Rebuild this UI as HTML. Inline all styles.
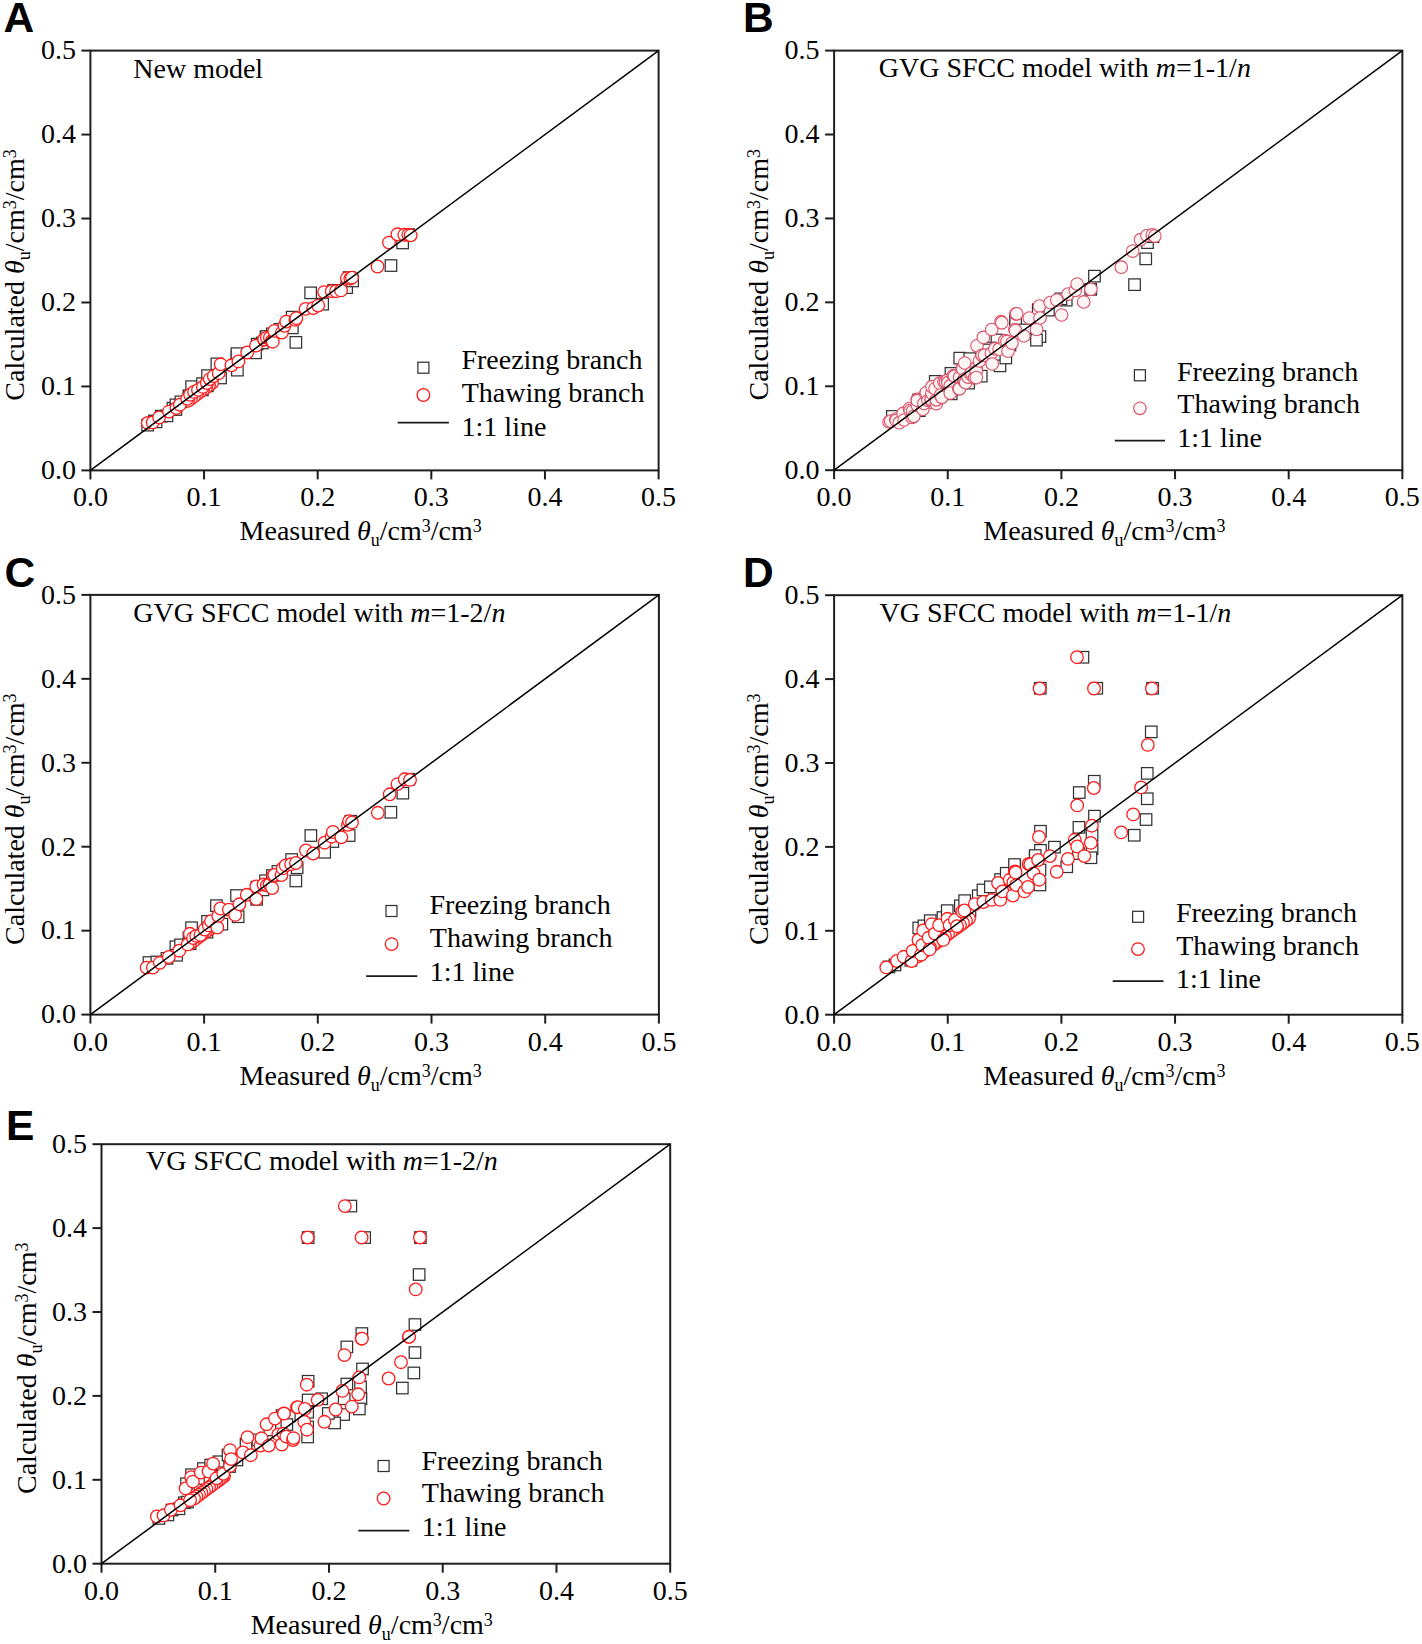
<!DOCTYPE html>
<html><head><meta charset="utf-8"><style>
html,body{margin:0;padding:0;background:#fff;overflow:hidden;}
svg{display:block;}
.tk{font-family:"Liberation Serif",serif;font-size:28px;fill:#000;}
.tx{font-family:"Liberation Serif",serif;font-size:28px;fill:#000;}
.lb{font-family:"Liberation Sans",sans-serif;font-weight:bold;font-size:42.5px;fill:#000;}
</style></head><body>
<svg width="1422" height="1644" viewBox="0 0 1422 1644">
<g stroke="#1e1e1e" stroke-width="2" fill="none">
<rect x="90.4" y="50.6" width="568.20" height="419.80"/>
<line x1="90.40" y1="470.4" x2="90.40" y2="479.4"/>
<line x1="81.4" y1="470.40" x2="90.4" y2="470.40"/>
<line x1="204.04" y1="470.4" x2="204.04" y2="479.4"/>
<line x1="81.4" y1="386.44" x2="90.4" y2="386.44"/>
<line x1="317.68" y1="470.4" x2="317.68" y2="479.4"/>
<line x1="81.4" y1="302.48" x2="90.4" y2="302.48"/>
<line x1="431.32" y1="470.4" x2="431.32" y2="479.4"/>
<line x1="81.4" y1="218.52" x2="90.4" y2="218.52"/>
<line x1="544.96" y1="470.4" x2="544.96" y2="479.4"/>
<line x1="81.4" y1="134.56" x2="90.4" y2="134.56"/>
<line x1="658.60" y1="470.4" x2="658.60" y2="479.4"/>
<line x1="81.4" y1="50.60" x2="90.4" y2="50.60"/>
</g>
<text x="90.40" y="506.40" text-anchor="middle" class="tk">0.0</text>
<text x="75.90" y="479.20" text-anchor="end" class="tk">0.0</text>
<text x="204.04" y="506.40" text-anchor="middle" class="tk">0.1</text>
<text x="75.90" y="395.24" text-anchor="end" class="tk">0.1</text>
<text x="317.68" y="506.40" text-anchor="middle" class="tk">0.2</text>
<text x="75.90" y="311.28" text-anchor="end" class="tk">0.2</text>
<text x="431.32" y="506.40" text-anchor="middle" class="tk">0.3</text>
<text x="75.90" y="227.32" text-anchor="end" class="tk">0.3</text>
<text x="544.96" y="506.40" text-anchor="middle" class="tk">0.4</text>
<text x="75.90" y="143.36" text-anchor="end" class="tk">0.4</text>
<text x="658.60" y="506.40" text-anchor="middle" class="tk">0.5</text>
<text x="75.90" y="59.40" text-anchor="end" class="tk">0.5</text>
<text x="239.60" y="540.40" class="tx">Measured <tspan font-style="italic">&#952;</tspan><tspan font-size="18" dy="6">u</tspan><tspan dy="-6">/cm</tspan><tspan font-size="18" dy="-8">3</tspan><tspan dy="8">/cm</tspan><tspan font-size="18" dy="-8">3</tspan></text>
<text transform="translate(24.40,400.70) rotate(-90)" class="tx">Calculated <tspan font-style="italic">&#952;</tspan><tspan font-size="18" dy="6">u</tspan><tspan dy="-6">/cm</tspan><tspan font-size="18" dy="-8">3</tspan><tspan dy="8">/cm</tspan><tspan font-size="18" dy="-8">3</tspan></text>
<text x="3.6" y="31.7" class="lb">A</text>
<text x="133.3" y="77.9" class="tx">New model</text>
<g fill="#fff" stroke="#333" stroke-width="1.25">
<rect x="148.6" y="415.2" width="11.5" height="11.5"/>
<rect x="155.4" y="410.4" width="11.5" height="11.5"/>
<rect x="167.2" y="402.4" width="11.5" height="11.5"/>
<rect x="170.2" y="399.1" width="11.5" height="11.5"/>
<rect x="175.2" y="396.1" width="11.5" height="11.5"/>
<rect x="183.1" y="390.1" width="11.5" height="11.5"/>
<rect x="185.9" y="380.9" width="11.5" height="11.5"/>
<rect x="196.8" y="377.9" width="11.5" height="11.5"/>
<rect x="201.8" y="369.9" width="11.5" height="11.5"/>
<rect x="211.1" y="358.1" width="11.5" height="11.5"/>
<rect x="231.2" y="350.8" width="11.5" height="11.5"/>
<rect x="251.4" y="338.4" width="11.5" height="11.5"/>
<rect x="260.2" y="331.1" width="11.5" height="11.5"/>
<rect x="266.6" y="328.1" width="11.5" height="11.5"/>
<rect x="141.9" y="419.4" width="11.5" height="11.5"/>
<rect x="150.3" y="416.1" width="11.5" height="11.5"/>
<rect x="161.2" y="410.1" width="11.5" height="11.5"/>
<rect x="170.1" y="403.8" width="11.5" height="11.5"/>
<rect x="183.8" y="390.4" width="11.5" height="11.5"/>
<rect x="196.6" y="384.1" width="11.5" height="11.5"/>
<rect x="201.6" y="380.1" width="11.5" height="11.5"/>
<rect x="214.8" y="372.2" width="11.5" height="11.5"/>
<rect x="231.6" y="364.4" width="11.5" height="11.5"/>
<rect x="249.8" y="347.1" width="11.5" height="11.5"/>
<rect x="256.6" y="337.2" width="11.5" height="11.5"/>
<rect x="290.1" y="336.6" width="11.5" height="11.5"/>
<rect x="286.6" y="322.1" width="11.5" height="11.5"/>
<rect x="304.9" y="287.1" width="11.5" height="11.5"/>
<rect x="286.4" y="311.4" width="11.5" height="11.5"/>
<rect x="316.9" y="298.4" width="11.5" height="11.5"/>
<rect x="327.9" y="284.6" width="11.5" height="11.5"/>
<rect x="340.9" y="281.9" width="11.5" height="11.5"/>
<rect x="343.4" y="271.8" width="11.5" height="11.5"/>
<rect x="346.9" y="275.2" width="11.5" height="11.5"/>
<rect x="274.2" y="323.6" width="11.5" height="11.5"/>
<rect x="260.8" y="330.8" width="11.5" height="11.5"/>
<rect x="385.2" y="259.8" width="11.5" height="11.5"/>
<rect x="396.9" y="237.2" width="11.5" height="11.5"/>
<rect x="402.8" y="228.8" width="11.5" height="11.5"/>
<rect x="231.2" y="347.9" width="11.5" height="11.5"/>
</g>
<g fill="#fff" stroke="#ff1a1a" stroke-width="1.3">
<circle cx="212.0" cy="383.1" r="6.3"/>
<circle cx="209.0" cy="385.3" r="6.3"/>
<circle cx="206.0" cy="387.5" r="6.3"/>
<circle cx="203.0" cy="389.7" r="6.3"/>
<circle cx="200.0" cy="391.9" r="6.3"/>
<circle cx="197.0" cy="394.1" r="6.3"/>
<circle cx="194.0" cy="396.4" r="6.3"/>
<circle cx="191.0" cy="398.6" r="6.3"/>
<circle cx="188.0" cy="400.8" r="6.3"/>
<circle cx="147.8" cy="422.9" r="6.3"/>
<circle cx="152.7" cy="422.4" r="6.3"/>
<circle cx="159.1" cy="417.5" r="6.3"/>
<circle cx="169.0" cy="411.6" r="6.3"/>
<circle cx="176.4" cy="408.1" r="6.3"/>
<circle cx="179.8" cy="404.7" r="6.3"/>
<circle cx="187.2" cy="398.8" r="6.3"/>
<circle cx="190.1" cy="394.8" r="6.3"/>
<circle cx="194.1" cy="391.9" r="6.3"/>
<circle cx="198.0" cy="389.9" r="6.3"/>
<circle cx="202.9" cy="386.9" r="6.3"/>
<circle cx="206.9" cy="383.0" r="6.3"/>
<circle cx="209.8" cy="379.1" r="6.3"/>
<circle cx="213.8" cy="376.1" r="6.3"/>
<circle cx="218.7" cy="373.2" r="6.3"/>
<circle cx="220.7" cy="364.3" r="6.3"/>
<circle cx="231.5" cy="365.3" r="6.3"/>
<circle cx="238.4" cy="361.4" r="6.3"/>
<circle cx="247.2" cy="352.5" r="6.3"/>
<circle cx="256.1" cy="345.6" r="6.3"/>
<circle cx="264.0" cy="339.7" r="6.3"/>
<circle cx="264.2" cy="339.3" r="6.3"/>
<circle cx="266.8" cy="337.6" r="6.3"/>
<circle cx="269.9" cy="337.7" r="6.3"/>
<circle cx="271.8" cy="341.0" r="6.3"/>
<circle cx="272.8" cy="341.7" r="6.3"/>
<circle cx="274.3" cy="330.9" r="6.3"/>
<circle cx="281.9" cy="332.6" r="6.3"/>
<circle cx="284.5" cy="325.8" r="6.3"/>
<circle cx="286.2" cy="321.6" r="6.3"/>
<circle cx="295.4" cy="319.9" r="6.3"/>
<circle cx="296.3" cy="318.2" r="6.3"/>
<circle cx="305.6" cy="308.9" r="6.3"/>
<circle cx="313.2" cy="308.1" r="6.3"/>
<circle cx="318.2" cy="305.6" r="6.3"/>
<circle cx="324.1" cy="292.1" r="6.3"/>
<circle cx="331.7" cy="291.2" r="6.3"/>
<circle cx="336.0" cy="291.2" r="6.3"/>
<circle cx="341.0" cy="290.4" r="6.3"/>
<circle cx="346.9" cy="278.1" r="6.3"/>
<circle cx="350.3" cy="278.6" r="6.3"/>
<circle cx="352.0" cy="277.7" r="6.3"/>
<circle cx="377.5" cy="266.5" r="6.3"/>
<circle cx="389.0" cy="242.6" r="6.3"/>
<circle cx="397.4" cy="234.3" r="6.3"/>
<circle cx="404.3" cy="234.8" r="6.3"/>
<circle cx="408.3" cy="234.8" r="6.3"/>
<circle cx="410.7" cy="235.3" r="6.3"/>
</g>
<line x1="90.4" y1="470.4" x2="658.6" y2="50.6" stroke="#000" stroke-width="1.5"/>
<rect x="417.9" y="362.2" width="11" height="11" fill="none" stroke="#333" stroke-width="1.25"/>
<g fill="#fff" stroke="#ff1a1a" stroke-width="1.3"><circle cx="423.4" cy="395.0" r="6.3"/></g>
<line x1="397.7" y1="422.6" x2="448.9" y2="422.6" stroke="#1a1a1a" stroke-width="1.8"/>
<text x="461.4" y="369.3" class="tx">Freezing branch</text>
<text x="461.7" y="402.2" class="tx">Thawing branch</text>
<text x="461.6" y="436.0" class="tx">1:1 line</text>
<g stroke="#1e1e1e" stroke-width="2" fill="none">
<rect x="834.1" y="50.6" width="568.25" height="419.60"/>
<line x1="834.10" y1="470.2" x2="834.10" y2="479.2"/>
<line x1="825.1" y1="470.20" x2="834.1" y2="470.20"/>
<line x1="947.75" y1="470.2" x2="947.75" y2="479.2"/>
<line x1="825.1" y1="386.28" x2="834.1" y2="386.28"/>
<line x1="1061.40" y1="470.2" x2="1061.40" y2="479.2"/>
<line x1="825.1" y1="302.36" x2="834.1" y2="302.36"/>
<line x1="1175.05" y1="470.2" x2="1175.05" y2="479.2"/>
<line x1="825.1" y1="218.44" x2="834.1" y2="218.44"/>
<line x1="1288.70" y1="470.2" x2="1288.70" y2="479.2"/>
<line x1="825.1" y1="134.52" x2="834.1" y2="134.52"/>
<line x1="1402.35" y1="470.2" x2="1402.35" y2="479.2"/>
<line x1="825.1" y1="50.60" x2="834.1" y2="50.60"/>
</g>
<text x="834.10" y="506.20" text-anchor="middle" class="tk">0.0</text>
<text x="819.60" y="479.00" text-anchor="end" class="tk">0.0</text>
<text x="947.75" y="506.20" text-anchor="middle" class="tk">0.1</text>
<text x="819.60" y="395.08" text-anchor="end" class="tk">0.1</text>
<text x="1061.40" y="506.20" text-anchor="middle" class="tk">0.2</text>
<text x="819.60" y="311.16" text-anchor="end" class="tk">0.2</text>
<text x="1175.05" y="506.20" text-anchor="middle" class="tk">0.3</text>
<text x="819.60" y="227.24" text-anchor="end" class="tk">0.3</text>
<text x="1288.70" y="506.20" text-anchor="middle" class="tk">0.4</text>
<text x="819.60" y="143.32" text-anchor="end" class="tk">0.4</text>
<text x="1402.35" y="506.20" text-anchor="middle" class="tk">0.5</text>
<text x="819.60" y="59.40" text-anchor="end" class="tk">0.5</text>
<text x="983.30" y="540.20" class="tx">Measured <tspan font-style="italic">&#952;</tspan><tspan font-size="18" dy="6">u</tspan><tspan dy="-6">/cm</tspan><tspan font-size="18" dy="-8">3</tspan><tspan dy="8">/cm</tspan><tspan font-size="18" dy="-8">3</tspan></text>
<text transform="translate(768.10,400.50) rotate(-90)" class="tx">Calculated <tspan font-style="italic">&#952;</tspan><tspan font-size="18" dy="6">u</tspan><tspan dy="-6">/cm</tspan><tspan font-size="18" dy="-8">3</tspan><tspan dy="8">/cm</tspan><tspan font-size="18" dy="-8">3</tspan></text>
<text x="742.9" y="31.7" class="lb">B</text>
<text x="878.8" y="76.7" class="tx">GVG SFCC model with <tspan font-style="italic">m</tspan>=1-1/<tspan font-style="italic">n</tspan></text>
<g fill="#fff" stroke="#333" stroke-width="1.25">
<rect x="886.6" y="410.6" width="11.5" height="11.5"/>
<rect x="912.8" y="394.2" width="11.5" height="11.5"/>
<rect x="929.5" y="375.6" width="11.5" height="11.5"/>
<rect x="945.2" y="367.6" width="11.5" height="11.5"/>
<rect x="954.0" y="352.4" width="11.5" height="11.5"/>
<rect x="964.0" y="352.9" width="11.5" height="11.5"/>
<rect x="1009.8" y="314.1" width="11.5" height="11.5"/>
<rect x="945.5" y="388.1" width="11.5" height="11.5"/>
<rect x="962.8" y="377.4" width="11.5" height="11.5"/>
<rect x="975.5" y="370.4" width="11.5" height="11.5"/>
<rect x="994.2" y="360.1" width="11.5" height="11.5"/>
<rect x="1000.1" y="352.2" width="11.5" height="11.5"/>
<rect x="913.5" y="404.9" width="11.5" height="11.5"/>
<rect x="991.2" y="334.2" width="11.5" height="11.5"/>
<rect x="984.2" y="342.2" width="11.5" height="11.5"/>
<rect x="1140.0" y="253.1" width="11.5" height="11.5"/>
<rect x="1128.8" y="278.9" width="11.5" height="11.5"/>
<rect x="1141.8" y="236.9" width="11.5" height="11.5"/>
<rect x="1147.2" y="230.9" width="11.5" height="11.5"/>
<rect x="1088.7" y="270.4" width="11.5" height="11.5"/>
<rect x="1085.0" y="283.6" width="11.5" height="11.5"/>
<rect x="1060.5" y="294.4" width="11.5" height="11.5"/>
<rect x="1042.7" y="304.4" width="11.5" height="11.5"/>
<rect x="1034.2" y="330.8" width="11.5" height="11.5"/>
<rect x="1030.7" y="334.4" width="11.5" height="11.5"/>
<rect x="1009.9" y="314.6" width="11.5" height="11.5"/>
<rect x="1032.5" y="303.9" width="11.5" height="11.5"/>
<rect x="1055.2" y="293.1" width="11.5" height="11.5"/>
<rect x="1019.2" y="324.2" width="11.5" height="11.5"/>
<rect x="1004.2" y="339.2" width="11.5" height="11.5"/>
<rect x="979.2" y="344.2" width="11.5" height="11.5"/>
</g>
<g fill="#fcf5f3" stroke="#d9506a" stroke-width="1.1">
<circle cx="948.0" cy="389.1" r="6.3"/>
<circle cx="945.0" cy="391.3" r="6.3"/>
<circle cx="942.0" cy="393.5" r="6.3"/>
<circle cx="939.0" cy="395.7" r="6.3"/>
<circle cx="936.0" cy="398.0" r="6.3"/>
<circle cx="933.0" cy="400.2" r="6.3"/>
<circle cx="930.0" cy="402.4" r="6.3"/>
<circle cx="889.1" cy="421.9" r="6.3"/>
<circle cx="890.8" cy="421.1" r="6.3"/>
<circle cx="895.8" cy="419.1" r="6.3"/>
<circle cx="896.2" cy="420.5" r="6.3"/>
<circle cx="899.2" cy="422.7" r="6.3"/>
<circle cx="903.2" cy="413.4" r="6.3"/>
<circle cx="904.1" cy="420.0" r="6.3"/>
<circle cx="909.4" cy="408.5" r="6.3"/>
<circle cx="910.2" cy="410.6" r="6.3"/>
<circle cx="912.0" cy="417.4" r="6.3"/>
<circle cx="912.5" cy="411.3" r="6.3"/>
<circle cx="913.8" cy="416.3" r="6.3"/>
<circle cx="917.3" cy="399.4" r="6.3"/>
<circle cx="917.3" cy="405.1" r="6.3"/>
<circle cx="917.4" cy="400.4" r="6.3"/>
<circle cx="922.9" cy="409.2" r="6.3"/>
<circle cx="924.0" cy="403.4" r="6.3"/>
<circle cx="925.7" cy="393.8" r="6.3"/>
<circle cx="926.3" cy="392.5" r="6.3"/>
<circle cx="928.0" cy="400.5" r="6.3"/>
<circle cx="931.2" cy="400.4" r="6.3"/>
<circle cx="931.3" cy="399.4" r="6.3"/>
<circle cx="931.9" cy="393.1" r="6.3"/>
<circle cx="932.0" cy="386.7" r="6.3"/>
<circle cx="935.1" cy="388.6" r="6.3"/>
<circle cx="936.3" cy="403.6" r="6.3"/>
<circle cx="936.4" cy="399.8" r="6.3"/>
<circle cx="939.8" cy="383.2" r="6.3"/>
<circle cx="940.6" cy="395.0" r="6.3"/>
<circle cx="941.9" cy="397.3" r="6.3"/>
<circle cx="944.0" cy="381.7" r="6.3"/>
<circle cx="945.5" cy="381.8" r="6.3"/>
<circle cx="947.5" cy="380.4" r="6.3"/>
<circle cx="947.9" cy="382.7" r="6.3"/>
<circle cx="950.3" cy="385.7" r="6.3"/>
<circle cx="950.3" cy="393.1" r="6.3"/>
<circle cx="953.4" cy="375.5" r="6.3"/>
<circle cx="954.5" cy="376.2" r="6.3"/>
<circle cx="958.8" cy="388.6" r="6.3"/>
<circle cx="959.5" cy="388.8" r="6.3"/>
<circle cx="959.6" cy="377.2" r="6.3"/>
<circle cx="962.3" cy="368.4" r="6.3"/>
<circle cx="962.7" cy="368.9" r="6.3"/>
<circle cx="963.7" cy="379.8" r="6.3"/>
<circle cx="964.4" cy="381.1" r="6.3"/>
<circle cx="964.7" cy="363.0" r="6.3"/>
<circle cx="965.7" cy="382.7" r="6.3"/>
<circle cx="968.1" cy="377.1" r="6.3"/>
<circle cx="970.7" cy="374.1" r="6.3"/>
<circle cx="971.7" cy="372.8" r="6.3"/>
<circle cx="974.5" cy="377.8" r="6.3"/>
<circle cx="976.3" cy="367.7" r="6.3"/>
<circle cx="976.3" cy="371.3" r="6.3"/>
<circle cx="976.3" cy="377.6" r="6.3"/>
<circle cx="977.0" cy="345.8" r="6.3"/>
<circle cx="979.4" cy="361.0" r="6.3"/>
<circle cx="982.1" cy="355.3" r="6.3"/>
<circle cx="983.4" cy="337.4" r="6.3"/>
<circle cx="984.4" cy="355.2" r="6.3"/>
<circle cx="991.4" cy="353.2" r="6.3"/>
<circle cx="991.7" cy="329.5" r="6.3"/>
<circle cx="992.2" cy="364.0" r="6.3"/>
<circle cx="994.9" cy="348.7" r="6.3"/>
<circle cx="999.1" cy="349.2" r="6.3"/>
<circle cx="1001.1" cy="321.7" r="6.3"/>
<circle cx="1001.8" cy="322.8" r="6.3"/>
<circle cx="1004.8" cy="340.7" r="6.3"/>
<circle cx="1007.0" cy="341.4" r="6.3"/>
<circle cx="1008.0" cy="351.2" r="6.3"/>
<circle cx="1012.0" cy="343.1" r="6.3"/>
<circle cx="1014.9" cy="329.5" r="6.3"/>
<circle cx="1015.5" cy="330.6" r="6.3"/>
<circle cx="1015.9" cy="313.8" r="6.3"/>
<circle cx="1016.7" cy="313.8" r="6.3"/>
<circle cx="1023.9" cy="336.0" r="6.3"/>
<circle cx="1029.3" cy="318.0" r="6.3"/>
<circle cx="1036.5" cy="329.4" r="6.3"/>
<circle cx="1039.5" cy="306.1" r="6.3"/>
<circle cx="1040.0" cy="318.0" r="6.3"/>
<circle cx="1050.2" cy="302.5" r="6.3"/>
<circle cx="1056.8" cy="300.1" r="6.3"/>
<circle cx="1061.6" cy="315.0" r="6.3"/>
<circle cx="1068.1" cy="294.1" r="6.3"/>
<circle cx="1075.3" cy="290.5" r="6.3"/>
<circle cx="1077.1" cy="284.0" r="6.3"/>
<circle cx="1083.7" cy="301.9" r="6.3"/>
<circle cx="1090.9" cy="289.3" r="6.3"/>
<circle cx="1121.3" cy="267.2" r="6.3"/>
<circle cx="1132.7" cy="251.1" r="6.3"/>
<circle cx="1140.5" cy="239.7" r="6.3"/>
<circle cx="1147.0" cy="235.5" r="6.3"/>
<circle cx="1152.4" cy="234.9" r="6.3"/>
<circle cx="1154.8" cy="236.1" r="6.3"/>
</g>
<line x1="834.1" y1="470.2" x2="1402.35" y2="50.6" stroke="#000" stroke-width="1.5"/>
<rect x="1134.4" y="369.8" width="11" height="11" fill="none" stroke="#333" stroke-width="1.25"/>
<g fill="#fcf5f3" stroke="#d9506a" stroke-width="1.1"><circle cx="1139.9" cy="408.3" r="6.3"/></g>
<line x1="1114.8" y1="440.6" x2="1165.0" y2="440.6" stroke="#1a1a1a" stroke-width="1.8"/>
<text x="1177.0" y="380.5" class="tx">Freezing branch</text>
<text x="1177.3" y="413.4" class="tx">Thawing branch</text>
<text x="1177.2" y="446.5" class="tx">1:1 line</text>
<g stroke="#1e1e1e" stroke-width="2" fill="none">
<rect x="90.4" y="594.9" width="568.50" height="419.70"/>
<line x1="90.40" y1="1014.6" x2="90.40" y2="1023.6"/>
<line x1="81.4" y1="1014.60" x2="90.4" y2="1014.60"/>
<line x1="204.10" y1="1014.6" x2="204.10" y2="1023.6"/>
<line x1="81.4" y1="930.66" x2="90.4" y2="930.66"/>
<line x1="317.80" y1="1014.6" x2="317.80" y2="1023.6"/>
<line x1="81.4" y1="846.72" x2="90.4" y2="846.72"/>
<line x1="431.50" y1="1014.6" x2="431.50" y2="1023.6"/>
<line x1="81.4" y1="762.78" x2="90.4" y2="762.78"/>
<line x1="545.20" y1="1014.6" x2="545.20" y2="1023.6"/>
<line x1="81.4" y1="678.84" x2="90.4" y2="678.84"/>
<line x1="658.90" y1="1014.6" x2="658.90" y2="1023.6"/>
<line x1="81.4" y1="594.90" x2="90.4" y2="594.90"/>
</g>
<text x="90.40" y="1050.60" text-anchor="middle" class="tk">0.0</text>
<text x="75.90" y="1023.40" text-anchor="end" class="tk">0.0</text>
<text x="204.10" y="1050.60" text-anchor="middle" class="tk">0.1</text>
<text x="75.90" y="939.46" text-anchor="end" class="tk">0.1</text>
<text x="317.80" y="1050.60" text-anchor="middle" class="tk">0.2</text>
<text x="75.90" y="855.52" text-anchor="end" class="tk">0.2</text>
<text x="431.50" y="1050.60" text-anchor="middle" class="tk">0.3</text>
<text x="75.90" y="771.58" text-anchor="end" class="tk">0.3</text>
<text x="545.20" y="1050.60" text-anchor="middle" class="tk">0.4</text>
<text x="75.90" y="687.64" text-anchor="end" class="tk">0.4</text>
<text x="658.90" y="1050.60" text-anchor="middle" class="tk">0.5</text>
<text x="75.90" y="603.70" text-anchor="end" class="tk">0.5</text>
<text x="239.60" y="1084.60" class="tx">Measured <tspan font-style="italic">&#952;</tspan><tspan font-size="18" dy="6">u</tspan><tspan dy="-6">/cm</tspan><tspan font-size="18" dy="-8">3</tspan><tspan dy="8">/cm</tspan><tspan font-size="18" dy="-8">3</tspan></text>
<text transform="translate(24.40,944.90) rotate(-90)" class="tx">Calculated <tspan font-style="italic">&#952;</tspan><tspan font-size="18" dy="6">u</tspan><tspan dy="-6">/cm</tspan><tspan font-size="18" dy="-8">3</tspan><tspan dy="8">/cm</tspan><tspan font-size="18" dy="-8">3</tspan></text>
<text x="4.4" y="587.1" class="lb">C</text>
<text x="133.3" y="621.7" class="tx">GVG SFCC model with <tspan font-style="italic">m</tspan>=1-2/<tspan font-style="italic">n</tspan></text>
<g fill="#fff" stroke="#333" stroke-width="1.25">
<rect x="143.2" y="956.8" width="11.5" height="11.5"/>
<rect x="151.1" y="956.2" width="11.5" height="11.5"/>
<rect x="170.1" y="941.0" width="11.5" height="11.5"/>
<rect x="174.8" y="939.1" width="11.5" height="11.5"/>
<rect x="183.2" y="932.0" width="11.5" height="11.5"/>
<rect x="185.8" y="922.0" width="11.5" height="11.5"/>
<rect x="201.8" y="915.6" width="11.5" height="11.5"/>
<rect x="210.7" y="899.9" width="11.5" height="11.5"/>
<rect x="230.8" y="889.8" width="11.5" height="11.5"/>
<rect x="251.2" y="881.4" width="11.5" height="11.5"/>
<rect x="259.8" y="875.0" width="11.5" height="11.5"/>
<rect x="266.6" y="869.8" width="11.5" height="11.5"/>
<rect x="273.4" y="866.0" width="11.5" height="11.5"/>
<rect x="170.8" y="949.5" width="11.5" height="11.5"/>
<rect x="184.4" y="938.0" width="11.5" height="11.5"/>
<rect x="201.3" y="926.4" width="11.5" height="11.5"/>
<rect x="216.1" y="918.4" width="11.5" height="11.5"/>
<rect x="232.4" y="911.0" width="11.5" height="11.5"/>
<rect x="250.9" y="893.6" width="11.5" height="11.5"/>
<rect x="257.2" y="884.1" width="11.5" height="11.5"/>
<rect x="161.2" y="952.6" width="11.5" height="11.5"/>
<rect x="385.1" y="806.5" width="11.5" height="11.5"/>
<rect x="397.1" y="787.4" width="11.5" height="11.5"/>
<rect x="403.1" y="773.5" width="11.5" height="11.5"/>
<rect x="345.1" y="815.5" width="11.5" height="11.5"/>
<rect x="343.4" y="829.8" width="11.5" height="11.5"/>
<rect x="327.1" y="835.8" width="11.5" height="11.5"/>
<rect x="318.9" y="846.5" width="11.5" height="11.5"/>
<rect x="305.1" y="829.8" width="11.5" height="11.5"/>
<rect x="290.1" y="875.2" width="11.5" height="11.5"/>
<rect x="285.9" y="853.8" width="11.5" height="11.5"/>
<rect x="291.4" y="862.0" width="11.5" height="11.5"/>
<rect x="272.2" y="865.6" width="11.5" height="11.5"/>
</g>
<g fill="#fff" stroke="#ff1a1a" stroke-width="1.3">
<circle cx="211.0" cy="928.1" r="6.3"/>
<circle cx="208.0" cy="930.3" r="6.3"/>
<circle cx="205.0" cy="932.5" r="6.3"/>
<circle cx="202.0" cy="934.7" r="6.3"/>
<circle cx="199.0" cy="936.9" r="6.3"/>
<circle cx="196.0" cy="939.1" r="6.3"/>
<circle cx="193.0" cy="941.4" r="6.3"/>
<circle cx="190.0" cy="943.6" r="6.3"/>
<circle cx="146.6" cy="967.6" r="6.3"/>
<circle cx="152.9" cy="967.6" r="6.3"/>
<circle cx="159.8" cy="962.8" r="6.3"/>
<circle cx="168.8" cy="957.0" r="6.3"/>
<circle cx="179.3" cy="950.7" r="6.3"/>
<circle cx="187.7" cy="944.4" r="6.3"/>
<circle cx="189.9" cy="933.8" r="6.3"/>
<circle cx="193.0" cy="938.1" r="6.3"/>
<circle cx="196.2" cy="935.9" r="6.3"/>
<circle cx="200.4" cy="934.9" r="6.3"/>
<circle cx="204.6" cy="929.6" r="6.3"/>
<circle cx="208.8" cy="925.4" r="6.3"/>
<circle cx="211.0" cy="921.2" r="6.3"/>
<circle cx="217.3" cy="927.5" r="6.3"/>
<circle cx="218.3" cy="915.9" r="6.3"/>
<circle cx="220.4" cy="908.5" r="6.3"/>
<circle cx="228.9" cy="909.6" r="6.3"/>
<circle cx="235.2" cy="914.9" r="6.3"/>
<circle cx="239.4" cy="904.3" r="6.3"/>
<circle cx="246.8" cy="894.8" r="6.3"/>
<circle cx="256.3" cy="886.4" r="6.3"/>
<circle cx="256.3" cy="899.0" r="6.3"/>
<circle cx="263.6" cy="884.5" r="6.3"/>
<circle cx="266.9" cy="885.3" r="6.3"/>
<circle cx="269.6" cy="884.5" r="6.3"/>
<circle cx="272.1" cy="888.0" r="6.3"/>
<circle cx="273.2" cy="875.8" r="6.3"/>
<circle cx="274.3" cy="875.0" r="6.3"/>
<circle cx="281.5" cy="875.0" r="6.3"/>
<circle cx="282.7" cy="868.4" r="6.3"/>
<circle cx="285.7" cy="865.4" r="6.3"/>
<circle cx="291.1" cy="864.2" r="6.3"/>
<circle cx="295.9" cy="863.0" r="6.3"/>
<circle cx="306.0" cy="850.5" r="6.3"/>
<circle cx="313.2" cy="853.5" r="6.3"/>
<circle cx="324.6" cy="842.7" r="6.3"/>
<circle cx="331.7" cy="836.7" r="6.3"/>
<circle cx="332.9" cy="832.0" r="6.3"/>
<circle cx="341.3" cy="837.3" r="6.3"/>
<circle cx="347.9" cy="824.8" r="6.3"/>
<circle cx="349.1" cy="821.2" r="6.3"/>
<circle cx="352.0" cy="822.4" r="6.3"/>
<circle cx="377.8" cy="812.8" r="6.3"/>
<circle cx="389.7" cy="794.3" r="6.3"/>
<circle cx="397.5" cy="784.1" r="6.3"/>
<circle cx="404.7" cy="779.3" r="6.3"/>
<circle cx="410.0" cy="779.9" r="6.3"/>
</g>
<line x1="90.4" y1="1014.6" x2="658.9" y2="594.9" stroke="#000" stroke-width="1.5"/>
<rect x="386.0" y="905.5" width="11" height="11" fill="none" stroke="#333" stroke-width="1.25"/>
<g fill="#fff" stroke="#ff1a1a" stroke-width="1.3"><circle cx="391.6" cy="944.1" r="6.3"/></g>
<line x1="366.1" y1="976.2" x2="417.3" y2="976.2" stroke="#1a1a1a" stroke-width="1.8"/>
<text x="429.5" y="914.1" class="tx">Freezing branch</text>
<text x="429.8" y="947.0" class="tx">Thawing branch</text>
<text x="429.7" y="980.5" class="tx">1:1 line</text>
<g stroke="#1e1e1e" stroke-width="2" fill="none">
<rect x="834.1" y="595.2" width="568.25" height="419.50"/>
<line x1="834.10" y1="1014.7" x2="834.10" y2="1023.7"/>
<line x1="825.1" y1="1014.70" x2="834.1" y2="1014.70"/>
<line x1="947.75" y1="1014.7" x2="947.75" y2="1023.7"/>
<line x1="825.1" y1="930.80" x2="834.1" y2="930.80"/>
<line x1="1061.40" y1="1014.7" x2="1061.40" y2="1023.7"/>
<line x1="825.1" y1="846.90" x2="834.1" y2="846.90"/>
<line x1="1175.05" y1="1014.7" x2="1175.05" y2="1023.7"/>
<line x1="825.1" y1="763.00" x2="834.1" y2="763.00"/>
<line x1="1288.70" y1="1014.7" x2="1288.70" y2="1023.7"/>
<line x1="825.1" y1="679.10" x2="834.1" y2="679.10"/>
<line x1="1402.35" y1="1014.7" x2="1402.35" y2="1023.7"/>
<line x1="825.1" y1="595.20" x2="834.1" y2="595.20"/>
</g>
<text x="834.10" y="1050.70" text-anchor="middle" class="tk">0.0</text>
<text x="819.60" y="1023.50" text-anchor="end" class="tk">0.0</text>
<text x="947.75" y="1050.70" text-anchor="middle" class="tk">0.1</text>
<text x="819.60" y="939.60" text-anchor="end" class="tk">0.1</text>
<text x="1061.40" y="1050.70" text-anchor="middle" class="tk">0.2</text>
<text x="819.60" y="855.70" text-anchor="end" class="tk">0.2</text>
<text x="1175.05" y="1050.70" text-anchor="middle" class="tk">0.3</text>
<text x="819.60" y="771.80" text-anchor="end" class="tk">0.3</text>
<text x="1288.70" y="1050.70" text-anchor="middle" class="tk">0.4</text>
<text x="819.60" y="687.90" text-anchor="end" class="tk">0.4</text>
<text x="1402.35" y="1050.70" text-anchor="middle" class="tk">0.5</text>
<text x="819.60" y="604.00" text-anchor="end" class="tk">0.5</text>
<text x="983.30" y="1084.70" class="tx">Measured <tspan font-style="italic">&#952;</tspan><tspan font-size="18" dy="6">u</tspan><tspan dy="-6">/cm</tspan><tspan font-size="18" dy="-8">3</tspan><tspan dy="8">/cm</tspan><tspan font-size="18" dy="-8">3</tspan></text>
<text transform="translate(768.10,945.00) rotate(-90)" class="tx">Calculated <tspan font-style="italic">&#952;</tspan><tspan font-size="18" dy="6">u</tspan><tspan dy="-6">/cm</tspan><tspan font-size="18" dy="-8">3</tspan><tspan dy="8">/cm</tspan><tspan font-size="18" dy="-8">3</tspan></text>
<text x="742.9" y="587.1" class="lb">D</text>
<text x="879.5" y="621.7" class="tx">VG SFCC model with <tspan font-style="italic">m</tspan>=1-1/<tspan font-style="italic">n</tspan></text>
<g fill="#fff" stroke="#333" stroke-width="1.25">
<rect x="913.0" y="922.2" width="11.5" height="11.5"/>
<rect x="918.2" y="920.1" width="11.5" height="11.5"/>
<rect x="924.5" y="914.9" width="11.5" height="11.5"/>
<rect x="937.2" y="911.8" width="11.5" height="11.5"/>
<rect x="941.5" y="904.9" width="11.5" height="11.5"/>
<rect x="954.6" y="900.1" width="11.5" height="11.5"/>
<rect x="958.9" y="894.9" width="11.5" height="11.5"/>
<rect x="972.5" y="890.0" width="11.5" height="11.5"/>
<rect x="977.2" y="884.2" width="11.5" height="11.5"/>
<rect x="984.6" y="881.1" width="11.5" height="11.5"/>
<rect x="994.8" y="873.8" width="11.5" height="11.5"/>
<rect x="1000.5" y="867.5" width="11.5" height="11.5"/>
<rect x="1009.0" y="860.0" width="11.5" height="11.5"/>
<rect x="1029.5" y="851.5" width="11.5" height="11.5"/>
<rect x="964.2" y="905.5" width="11.5" height="11.5"/>
<rect x="955.9" y="912.4" width="11.5" height="11.5"/>
<rect x="950.5" y="917.6" width="11.5" height="11.5"/>
<rect x="944.2" y="923.0" width="11.5" height="11.5"/>
<rect x="935.8" y="927.1" width="11.5" height="11.5"/>
<rect x="913.6" y="948.2" width="11.5" height="11.5"/>
<rect x="905.1" y="954.5" width="11.5" height="11.5"/>
<rect x="1141.5" y="767.6" width="11.5" height="11.5"/>
<rect x="1141.5" y="793.0" width="11.5" height="11.5"/>
<rect x="1140.3" y="813.8" width="11.5" height="11.5"/>
<rect x="1128.5" y="829.5" width="11.5" height="11.5"/>
<rect x="1088.5" y="775.5" width="11.5" height="11.5"/>
<rect x="1073.5" y="786.8" width="11.5" height="11.5"/>
<rect x="1088.7" y="810.4" width="11.5" height="11.5"/>
<rect x="1073.2" y="821.6" width="11.5" height="11.5"/>
<rect x="1086.3" y="829.5" width="11.5" height="11.5"/>
<rect x="1086.3" y="843.0" width="11.5" height="11.5"/>
<rect x="1085.2" y="852.0" width="11.5" height="11.5"/>
<rect x="1072.8" y="847.8" width="11.5" height="11.5"/>
<rect x="1061.0" y="861.0" width="11.5" height="11.5"/>
<rect x="1048.7" y="841.4" width="11.5" height="11.5"/>
<rect x="1034.7" y="825.5" width="11.5" height="11.5"/>
<rect x="1034.7" y="844.6" width="11.5" height="11.5"/>
<rect x="1029.5" y="849.8" width="11.5" height="11.5"/>
<rect x="1008.8" y="858.8" width="11.5" height="11.5"/>
<rect x="1034.2" y="864.2" width="11.5" height="11.5"/>
<rect x="1034.2" y="879.2" width="11.5" height="11.5"/>
<rect x="1077.2" y="651.5" width="11.5" height="11.5"/>
<rect x="1034.5" y="682.5" width="11.5" height="11.5"/>
<rect x="1091.0" y="682.5" width="11.5" height="11.5"/>
<rect x="1146.8" y="682.5" width="11.5" height="11.5"/>
<rect x="1145.5" y="726.1" width="11.5" height="11.5"/>
<rect x="883.2" y="961.2" width="11.5" height="11.5"/>
<rect x="889.2" y="959.2" width="11.5" height="11.5"/>
</g>
<g fill="#fff" stroke="#ff1a1a" stroke-width="1.3">
<circle cx="969.0" cy="918.6" r="6.3"/>
<circle cx="966.0" cy="920.8" r="6.3"/>
<circle cx="963.0" cy="923.0" r="6.3"/>
<circle cx="960.0" cy="925.3" r="6.3"/>
<circle cx="957.0" cy="927.5" r="6.3"/>
<circle cx="954.0" cy="929.7" r="6.3"/>
<circle cx="951.0" cy="931.9" r="6.3"/>
<circle cx="948.0" cy="934.1" r="6.3"/>
<circle cx="945.0" cy="936.3" r="6.3"/>
<circle cx="942.0" cy="938.5" r="6.3"/>
<circle cx="939.0" cy="940.8" r="6.3"/>
<circle cx="936.0" cy="943.0" r="6.3"/>
<circle cx="933.0" cy="945.2" r="6.3"/>
<circle cx="930.0" cy="947.4" r="6.3"/>
<circle cx="927.0" cy="949.6" r="6.3"/>
<circle cx="924.0" cy="951.8" r="6.3"/>
<circle cx="921.0" cy="954.0" r="6.3"/>
<circle cx="918.0" cy="956.3" r="6.3"/>
<circle cx="886.3" cy="967.4" r="6.3"/>
<circle cx="896.9" cy="961.0" r="6.3"/>
<circle cx="903.7" cy="956.8" r="6.3"/>
<circle cx="911.6" cy="961.0" r="6.3"/>
<circle cx="912.7" cy="951.0" r="6.3"/>
<circle cx="918.5" cy="939.9" r="6.3"/>
<circle cx="921.1" cy="954.7" r="6.3"/>
<circle cx="922.2" cy="945.2" r="6.3"/>
<circle cx="923.2" cy="930.4" r="6.3"/>
<circle cx="928.5" cy="937.8" r="6.3"/>
<circle cx="929.6" cy="949.4" r="6.3"/>
<circle cx="931.7" cy="924.1" r="6.3"/>
<circle cx="934.9" cy="933.6" r="6.3"/>
<circle cx="939.1" cy="925.2" r="6.3"/>
<circle cx="943.3" cy="939.9" r="6.3"/>
<circle cx="947.5" cy="918.8" r="6.3"/>
<circle cx="949.6" cy="925.2" r="6.3"/>
<circle cx="954.9" cy="919.9" r="6.3"/>
<circle cx="957.0" cy="926.2" r="6.3"/>
<circle cx="962.3" cy="911.5" r="6.3"/>
<circle cx="964.4" cy="910.4" r="6.3"/>
<circle cx="974.9" cy="904.1" r="6.3"/>
<circle cx="983.4" cy="902.0" r="6.3"/>
<circle cx="991.8" cy="899.9" r="6.3"/>
<circle cx="998.1" cy="883.0" r="6.3"/>
<circle cx="1000.3" cy="899.9" r="6.3"/>
<circle cx="1002.4" cy="891.4" r="6.3"/>
<circle cx="1009.7" cy="879.8" r="6.3"/>
<circle cx="1012.9" cy="895.6" r="6.3"/>
<circle cx="1013.4" cy="882.5" r="6.3"/>
<circle cx="1015.0" cy="871.4" r="6.3"/>
<circle cx="1015.6" cy="872.4" r="6.3"/>
<circle cx="1016.1" cy="885.1" r="6.3"/>
<circle cx="1024.5" cy="891.4" r="6.3"/>
<circle cx="1028.0" cy="887.0" r="6.3"/>
<circle cx="1028.7" cy="864.0" r="6.3"/>
<circle cx="1030.3" cy="864.5" r="6.3"/>
<circle cx="1033.6" cy="873.5" r="6.3"/>
<circle cx="1038.1" cy="860.0" r="6.3"/>
<circle cx="1039.0" cy="836.9" r="6.3"/>
<circle cx="1039.3" cy="879.7" r="6.3"/>
<circle cx="1039.6" cy="688.5" r="6.3"/>
<circle cx="1049.9" cy="856.1" r="6.3"/>
<circle cx="1056.7" cy="871.8" r="6.3"/>
<circle cx="1067.9" cy="858.9" r="6.3"/>
<circle cx="1074.7" cy="839.8" r="6.3"/>
<circle cx="1077.0" cy="657.2" r="6.3"/>
<circle cx="1077.2" cy="805.4" r="6.3"/>
<circle cx="1077.2" cy="846.5" r="6.3"/>
<circle cx="1084.3" cy="856.1" r="6.3"/>
<circle cx="1090.8" cy="842.9" r="6.3"/>
<circle cx="1091.9" cy="825.7" r="6.3"/>
<circle cx="1093.8" cy="788.0" r="6.3"/>
<circle cx="1094.0" cy="688.5" r="6.3"/>
<circle cx="1121.2" cy="832.4" r="6.3"/>
<circle cx="1133.2" cy="814.4" r="6.3"/>
<circle cx="1141.1" cy="787.4" r="6.3"/>
<circle cx="1147.8" cy="744.9" r="6.3"/>
<circle cx="1151.9" cy="688.5" r="6.3"/>
</g>
<line x1="834.1" y1="1014.7" x2="1402.35" y2="595.2" stroke="#000" stroke-width="1.5"/>
<rect x="1132.6" y="911.3" width="11" height="11" fill="none" stroke="#333" stroke-width="1.25"/>
<g fill="#fff" stroke="#ff1a1a" stroke-width="1.3"><circle cx="1138.0" cy="949.1" r="6.3"/></g>
<line x1="1112.7" y1="981.2" x2="1163.5" y2="981.2" stroke="#1a1a1a" stroke-width="1.8"/>
<text x="1175.9" y="921.5" class="tx">Freezing branch</text>
<text x="1176.2" y="954.6" class="tx">Thawing branch</text>
<text x="1176.1" y="987.9" class="tx">1:1 line</text>
<g stroke="#1e1e1e" stroke-width="2" fill="none">
<rect x="101.5" y="1144.2" width="568.70" height="419.50"/>
<line x1="101.50" y1="1563.7" x2="101.50" y2="1572.7"/>
<line x1="92.5" y1="1563.70" x2="101.5" y2="1563.70"/>
<line x1="215.24" y1="1563.7" x2="215.24" y2="1572.7"/>
<line x1="92.5" y1="1479.80" x2="101.5" y2="1479.80"/>
<line x1="328.98" y1="1563.7" x2="328.98" y2="1572.7"/>
<line x1="92.5" y1="1395.90" x2="101.5" y2="1395.90"/>
<line x1="442.72" y1="1563.7" x2="442.72" y2="1572.7"/>
<line x1="92.5" y1="1312.00" x2="101.5" y2="1312.00"/>
<line x1="556.46" y1="1563.7" x2="556.46" y2="1572.7"/>
<line x1="92.5" y1="1228.10" x2="101.5" y2="1228.10"/>
<line x1="670.20" y1="1563.7" x2="670.20" y2="1572.7"/>
<line x1="92.5" y1="1144.20" x2="101.5" y2="1144.20"/>
</g>
<text x="101.50" y="1599.70" text-anchor="middle" class="tk">0.0</text>
<text x="87.00" y="1572.50" text-anchor="end" class="tk">0.0</text>
<text x="215.24" y="1599.70" text-anchor="middle" class="tk">0.1</text>
<text x="87.00" y="1488.60" text-anchor="end" class="tk">0.1</text>
<text x="328.98" y="1599.70" text-anchor="middle" class="tk">0.2</text>
<text x="87.00" y="1404.70" text-anchor="end" class="tk">0.2</text>
<text x="442.72" y="1599.70" text-anchor="middle" class="tk">0.3</text>
<text x="87.00" y="1320.80" text-anchor="end" class="tk">0.3</text>
<text x="556.46" y="1599.70" text-anchor="middle" class="tk">0.4</text>
<text x="87.00" y="1236.90" text-anchor="end" class="tk">0.4</text>
<text x="670.20" y="1599.70" text-anchor="middle" class="tk">0.5</text>
<text x="87.00" y="1153.00" text-anchor="end" class="tk">0.5</text>
<text x="250.70" y="1633.70" class="tx">Measured <tspan font-style="italic">&#952;</tspan><tspan font-size="18" dy="6">u</tspan><tspan dy="-6">/cm</tspan><tspan font-size="18" dy="-8">3</tspan><tspan dy="8">/cm</tspan><tspan font-size="18" dy="-8">3</tspan></text>
<text transform="translate(35.50,1494.00) rotate(-90)" class="tx">Calculated <tspan font-style="italic">&#952;</tspan><tspan font-size="18" dy="6">u</tspan><tspan dy="-6">/cm</tspan><tspan font-size="18" dy="-8">3</tspan><tspan dy="8">/cm</tspan><tspan font-size="18" dy="-8">3</tspan></text>
<text x="5.9" y="1139.5" class="lb">E</text>
<text x="146.0" y="1170.2" class="tx">VG SFCC model with <tspan font-style="italic">m</tspan>=1-2/<tspan font-style="italic">n</tspan></text>
<g fill="#fff" stroke="#333" stroke-width="1.25">
<rect x="166.2" y="1504.3" width="11.5" height="11.5"/>
<rect x="178.6" y="1497.0" width="11.5" height="11.5"/>
<rect x="180.8" y="1478.0" width="11.5" height="11.5"/>
<rect x="185.8" y="1469.0" width="11.5" height="11.5"/>
<rect x="197.7" y="1462.8" width="11.5" height="11.5"/>
<rect x="204.9" y="1459.3" width="11.5" height="11.5"/>
<rect x="213.3" y="1456.0" width="11.5" height="11.5"/>
<rect x="222.3" y="1449.2" width="11.5" height="11.5"/>
<rect x="240.3" y="1438.5" width="11.5" height="11.5"/>
<rect x="276.4" y="1409.8" width="11.5" height="11.5"/>
<rect x="162.1" y="1509.2" width="11.5" height="11.5"/>
<rect x="173.2" y="1503.0" width="11.5" height="11.5"/>
<rect x="181.7" y="1496.3" width="11.5" height="11.5"/>
<rect x="217.2" y="1467.0" width="11.5" height="11.5"/>
<rect x="223.8" y="1460.8" width="11.5" height="11.5"/>
<rect x="231.2" y="1454.2" width="11.5" height="11.5"/>
<rect x="283.6" y="1410.2" width="11.5" height="11.5"/>
<rect x="153.1" y="1512.7" width="11.5" height="11.5"/>
<rect x="194.2" y="1484.2" width="11.5" height="11.5"/>
<rect x="204.2" y="1477.2" width="11.5" height="11.5"/>
<rect x="252.2" y="1434.2" width="11.5" height="11.5"/>
<rect x="264.2" y="1424.2" width="11.5" height="11.5"/>
<rect x="409.2" y="1318.8" width="11.5" height="11.5"/>
<rect x="409.2" y="1346.8" width="11.5" height="11.5"/>
<rect x="408.1" y="1367.2" width="11.5" height="11.5"/>
<rect x="396.6" y="1382.3" width="11.5" height="11.5"/>
<rect x="356.1" y="1327.8" width="11.5" height="11.5"/>
<rect x="341.1" y="1341.2" width="11.5" height="11.5"/>
<rect x="356.8" y="1363.2" width="11.5" height="11.5"/>
<rect x="341.1" y="1378.3" width="11.5" height="11.5"/>
<rect x="354.8" y="1381.2" width="11.5" height="11.5"/>
<rect x="355.2" y="1393.0" width="11.5" height="11.5"/>
<rect x="353.6" y="1403.2" width="11.5" height="11.5"/>
<rect x="337.9" y="1408.8" width="11.5" height="11.5"/>
<rect x="338.4" y="1393.0" width="11.5" height="11.5"/>
<rect x="328.9" y="1417.2" width="11.5" height="11.5"/>
<rect x="315.9" y="1393.0" width="11.5" height="11.5"/>
<rect x="302.4" y="1375.5" width="11.5" height="11.5"/>
<rect x="302.4" y="1394.2" width="11.5" height="11.5"/>
<rect x="301.9" y="1406.5" width="11.5" height="11.5"/>
<rect x="301.9" y="1421.2" width="11.5" height="11.5"/>
<rect x="301.9" y="1431.2" width="11.5" height="11.5"/>
<rect x="281.1" y="1418.8" width="11.5" height="11.5"/>
<rect x="322.6" y="1407.7" width="11.5" height="11.5"/>
<rect x="345.1" y="1200.3" width="11.5" height="11.5"/>
<rect x="302.4" y="1231.8" width="11.5" height="11.5"/>
<rect x="358.9" y="1231.8" width="11.5" height="11.5"/>
<rect x="414.6" y="1231.8" width="11.5" height="11.5"/>
<rect x="413.4" y="1268.8" width="11.5" height="11.5"/>
</g>
<g fill="#fff" stroke="#ff1a1a" stroke-width="1.3">
<circle cx="224.0" cy="1476.3" r="6.3"/>
<circle cx="221.5" cy="1478.2" r="6.3"/>
<circle cx="219.0" cy="1480.0" r="6.3"/>
<circle cx="216.5" cy="1481.9" r="6.3"/>
<circle cx="214.0" cy="1483.7" r="6.3"/>
<circle cx="211.5" cy="1485.6" r="6.3"/>
<circle cx="209.0" cy="1487.4" r="6.3"/>
<circle cx="206.5" cy="1489.2" r="6.3"/>
<circle cx="204.0" cy="1491.1" r="6.3"/>
<circle cx="201.5" cy="1492.9" r="6.3"/>
<circle cx="199.0" cy="1494.8" r="6.3"/>
<circle cx="196.5" cy="1496.6" r="6.3"/>
<circle cx="194.0" cy="1498.5" r="6.3"/>
<circle cx="156.9" cy="1516.5" r="6.3"/>
<circle cx="163.6" cy="1515.4" r="6.3"/>
<circle cx="170.9" cy="1509.8" r="6.3"/>
<circle cx="180.5" cy="1505.3" r="6.3"/>
<circle cx="185.6" cy="1488.4" r="6.3"/>
<circle cx="190.1" cy="1500.2" r="6.3"/>
<circle cx="191.2" cy="1477.1" r="6.3"/>
<circle cx="192.9" cy="1481.6" r="6.3"/>
<circle cx="200.8" cy="1472.6" r="6.3"/>
<circle cx="208.6" cy="1471.5" r="6.3"/>
<circle cx="213.1" cy="1463.6" r="6.3"/>
<circle cx="216.5" cy="1478.3" r="6.3"/>
<circle cx="223.3" cy="1473.8" r="6.3"/>
<circle cx="230.0" cy="1450.1" r="6.3"/>
<circle cx="230.0" cy="1465.9" r="6.3"/>
<circle cx="231.1" cy="1459.1" r="6.3"/>
<circle cx="243.0" cy="1452.4" r="6.3"/>
<circle cx="247.5" cy="1437.2" r="6.3"/>
<circle cx="250.8" cy="1455.2" r="6.3"/>
<circle cx="260.4" cy="1445.6" r="6.3"/>
<circle cx="261.5" cy="1438.3" r="6.3"/>
<circle cx="266.6" cy="1424.3" r="6.3"/>
<circle cx="268.8" cy="1445.6" r="6.3"/>
<circle cx="275.0" cy="1418.6" r="6.3"/>
<circle cx="278.4" cy="1434.4" r="6.3"/>
<circle cx="281.8" cy="1444.5" r="6.3"/>
<circle cx="283.4" cy="1433.6" r="6.3"/>
<circle cx="283.9" cy="1413.4" r="6.3"/>
<circle cx="284.0" cy="1413.6" r="6.3"/>
<circle cx="286.3" cy="1436.6" r="6.3"/>
<circle cx="293.0" cy="1440.0" r="6.3"/>
<circle cx="293.5" cy="1438.1" r="6.3"/>
<circle cx="297.0" cy="1407.4" r="6.3"/>
<circle cx="297.8" cy="1407.2" r="6.3"/>
<circle cx="304.2" cy="1421.8" r="6.3"/>
<circle cx="304.8" cy="1408.9" r="6.3"/>
<circle cx="306.8" cy="1384.7" r="6.3"/>
<circle cx="307.0" cy="1429.7" r="6.3"/>
<circle cx="307.6" cy="1237.5" r="6.3"/>
<circle cx="317.7" cy="1399.9" r="6.3"/>
<circle cx="324.4" cy="1421.8" r="6.3"/>
<circle cx="335.7" cy="1409.5" r="6.3"/>
<circle cx="342.4" cy="1390.9" r="6.3"/>
<circle cx="344.4" cy="1355.1" r="6.3"/>
<circle cx="344.8" cy="1206.1" r="6.3"/>
<circle cx="351.8" cy="1406.6" r="6.3"/>
<circle cx="358.2" cy="1394.3" r="6.3"/>
<circle cx="359.3" cy="1377.4" r="6.3"/>
<circle cx="361.6" cy="1237.5" r="6.3"/>
<circle cx="361.6" cy="1338.7" r="6.3"/>
<circle cx="361.9" cy="1338.6" r="6.3"/>
<circle cx="388.6" cy="1378.5" r="6.3"/>
<circle cx="401.0" cy="1362.2" r="6.3"/>
<circle cx="408.8" cy="1336.9" r="6.3"/>
<circle cx="409.1" cy="1336.8" r="6.3"/>
<circle cx="415.7" cy="1289.4" r="6.3"/>
<circle cx="419.9" cy="1237.5" r="6.3"/>
</g>
<line x1="101.5" y1="1563.7" x2="670.2" y2="1144.2" stroke="#000" stroke-width="1.5"/>
<rect x="378.1" y="1460.5" width="11" height="11" fill="none" stroke="#333" stroke-width="1.25"/>
<g fill="#fff" stroke="#ff1a1a" stroke-width="1.3"><circle cx="383.6" cy="1498.5" r="6.3"/></g>
<line x1="358.3" y1="1530.6" x2="409.3" y2="1530.6" stroke="#1a1a1a" stroke-width="1.8"/>
<text x="421.5" y="1469.5" class="tx">Freezing branch</text>
<text x="421.8" y="1502.0" class="tx">Thawing branch</text>
<text x="421.7" y="1535.5" class="tx">1:1 line</text>
</svg>
</body></html>
